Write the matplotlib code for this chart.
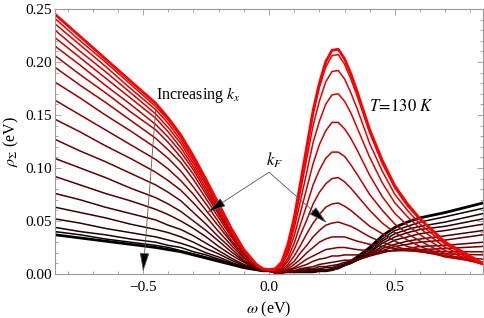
import matplotlib
matplotlib.use("Agg")
import matplotlib.pyplot as plt
from matplotlib.ticker import MultipleLocator, FixedLocator, FixedFormatter

omega = [-0.85, -0.75, -0.65, -0.55, -0.45, -0.40, -0.35, -0.30, -0.25, -0.20,
         -0.15, -0.10, -0.05, -0.025, 0.0,
         0.025, 0.05, 0.075, 0.10, 0.125, 0.15, 0.175, 0.20, 0.225, 0.25, 0.275,
         0.30, 0.325, 0.35, 0.40, 0.45, 0.50, 0.55, 0.60, 0.70, 0.85]

# rho_Sigma (eV), one row per k_x, from k_F (red) to the largest k_x (black)
rho = [
    [0.245, 0.224, 0.203, 0.182, 0.161, 0.147, 0.131, 0.111, 0.089, 0.066, 0.043, 0.023, 0.009, 0.005, 0.004,
     0.005, 0.011, 0.028, 0.053, 0.086, 0.120, 0.154, 0.180, 0.200, 0.211, 0.212, 0.203, 0.189, 0.172, 0.136, 0.107, 0.083, 0.066, 0.052, 0.030, 0.010],
    [0.241, 0.220, 0.200, 0.179, 0.158, 0.145, 0.129, 0.109, 0.088, 0.065, 0.042, 0.023, 0.009, 0.005, 0.004,
     0.005, 0.011, 0.027, 0.052, 0.084, 0.117, 0.150, 0.176, 0.195, 0.206, 0.207, 0.198, 0.184, 0.168, 0.133, 0.104, 0.081, 0.064, 0.051, 0.029, 0.010],
    [0.236, 0.216, 0.196, 0.175, 0.155, 0.142, 0.126, 0.107, 0.086, 0.064, 0.042, 0.022, 0.009, 0.005, 0.004,
     0.005, 0.010, 0.025, 0.048, 0.078, 0.109, 0.140, 0.163, 0.181, 0.191, 0.192, 0.184, 0.171, 0.156, 0.123, 0.097, 0.075, 0.060, 0.047, 0.028, 0.009],
    [0.230, 0.210, 0.191, 0.171, 0.151, 0.138, 0.123, 0.104, 0.084, 0.062, 0.041, 0.022, 0.009, 0.005, 0.004,
     0.004, 0.009, 0.022, 0.043, 0.069, 0.096, 0.124, 0.144, 0.160, 0.169, 0.170, 0.163, 0.152, 0.138, 0.110, 0.086, 0.067, 0.054, 0.043, 0.025, 0.009],
    [0.223, 0.204, 0.185, 0.166, 0.147, 0.134, 0.119, 0.101, 0.081, 0.060, 0.039, 0.021, 0.008, 0.005, 0.004,
     0.004, 0.008, 0.019, 0.036, 0.058, 0.081, 0.104, 0.122, 0.135, 0.143, 0.143, 0.137, 0.128, 0.117, 0.093, 0.073, 0.057, 0.046, 0.037, 0.022, 0.009],
    [0.215, 0.197, 0.178, 0.160, 0.141, 0.129, 0.115, 0.098, 0.078, 0.058, 0.038, 0.021, 0.008, 0.005, 0.004,
     0.003, 0.006, 0.015, 0.029, 0.047, 0.065, 0.084, 0.098, 0.109, 0.115, 0.115, 0.111, 0.103, 0.094, 0.075, 0.060, 0.047, 0.038, 0.031, 0.019, 0.009],
    [0.206, 0.188, 0.171, 0.153, 0.136, 0.124, 0.110, 0.094, 0.075, 0.056, 0.037, 0.020, 0.008, 0.005, 0.004,
     0.002, 0.005, 0.012, 0.023, 0.037, 0.051, 0.066, 0.077, 0.085, 0.090, 0.091, 0.087, 0.081, 0.074, 0.060, 0.048, 0.039, 0.032, 0.026, 0.017, 0.010],
    [0.195, 0.178, 0.162, 0.145, 0.128, 0.117, 0.105, 0.089, 0.071, 0.053, 0.035, 0.019, 0.008, 0.005, 0.004,
     0.002, 0.004, 0.009, 0.017, 0.027, 0.038, 0.048, 0.056, 0.063, 0.066, 0.067, 0.064, 0.060, 0.055, 0.045, 0.038, 0.031, 0.026, 0.023, 0.016, 0.011],
    [0.181, 0.166, 0.150, 0.135, 0.119, 0.109, 0.097, 0.082, 0.066, 0.049, 0.032, 0.018, 0.007, 0.004, 0.004,
     0.001, 0.003, 0.007, 0.012, 0.020, 0.027, 0.035, 0.041, 0.046, 0.048, 0.049, 0.047, 0.045, 0.042, 0.035, 0.030, 0.026, 0.023, 0.021, 0.017, 0.014],
    [0.164, 0.150, 0.136, 0.122, 0.108, 0.099, 0.088, 0.075, 0.060, 0.045, 0.030, 0.016, 0.007, 0.004, 0.004,
     0.001, 0.002, 0.005, 0.009, 0.014, 0.020, 0.025, 0.030, 0.033, 0.035, 0.035, 0.035, 0.033, 0.031, 0.028, 0.026, 0.024, 0.022, 0.021, 0.019, 0.018],
    [0.146, 0.134, 0.121, 0.109, 0.096, 0.088, 0.079, 0.067, 0.054, 0.040, 0.027, 0.015, 0.007, 0.004, 0.004,
     0.001, 0.002, 0.004, 0.006, 0.010, 0.014, 0.017, 0.020, 0.023, 0.024, 0.025, 0.025, 0.024, 0.023, 0.022, 0.022, 0.022, 0.022, 0.022, 0.021, 0.021],
    [0.127, 0.116, 0.106, 0.095, 0.084, 0.077, 0.069, 0.058, 0.047, 0.035, 0.024, 0.013, 0.006, 0.004, 0.003,
     0.001, 0.002, 0.003, 0.005, 0.007, 0.009, 0.012, 0.014, 0.015, 0.017, 0.017, 0.018, 0.018, 0.018, 0.019, 0.021, 0.022, 0.023, 0.023, 0.024, 0.026],
    [0.109, 0.100, 0.091, 0.081, 0.072, 0.066, 0.059, 0.050, 0.041, 0.031, 0.021, 0.012, 0.006, 0.004, 0.003,
     0.001, 0.001, 0.002, 0.003, 0.005, 0.006, 0.007, 0.009, 0.010, 0.011, 0.012, 0.013, 0.013, 0.014, 0.017, 0.020, 0.023, 0.024, 0.026, 0.027, 0.030],
    [0.092, 0.084, 0.076, 0.069, 0.061, 0.056, 0.050, 0.043, 0.035, 0.026, 0.018, 0.011, 0.005, 0.004, 0.003,
     0.001, 0.001, 0.002, 0.003, 0.004, 0.005, 0.005, 0.007, 0.007, 0.008, 0.009, 0.011, 0.012, 0.013, 0.017, 0.022, 0.026, 0.028, 0.030, 0.032, 0.037],
    [0.076, 0.070, 0.063, 0.057, 0.051, 0.046, 0.042, 0.036, 0.029, 0.022, 0.015, 0.009, 0.005, 0.003, 0.003,
     0.001, 0.001, 0.002, 0.002, 0.003, 0.004, 0.004, 0.005, 0.006, 0.006, 0.008, 0.009, 0.011, 0.013, 0.018, 0.024, 0.028, 0.031, 0.033, 0.036, 0.041],
    [0.063, 0.058, 0.053, 0.047, 0.042, 0.039, 0.035, 0.030, 0.024, 0.019, 0.013, 0.008, 0.005, 0.003, 0.003,
     0.001, 0.002, 0.002, 0.002, 0.002, 0.003, 0.003, 0.004, 0.004, 0.005, 0.006, 0.008, 0.010, 0.013, 0.019, 0.026, 0.032, 0.035, 0.038, 0.041, 0.047],
    [0.052, 0.048, 0.043, 0.039, 0.035, 0.032, 0.029, 0.025, 0.020, 0.016, 0.011, 0.007, 0.004, 0.003, 0.003,
     0.002, 0.002, 0.002, 0.002, 0.002, 0.002, 0.002, 0.003, 0.003, 0.004, 0.006, 0.008, 0.010, 0.013, 0.020, 0.029, 0.035, 0.039, 0.042, 0.045, 0.052],
    [0.044, 0.040, 0.037, 0.033, 0.030, 0.027, 0.025, 0.021, 0.018, 0.014, 0.010, 0.007, 0.004, 0.003, 0.003,
     0.002, 0.002, 0.002, 0.002, 0.002, 0.002, 0.002, 0.003, 0.003, 0.004, 0.005, 0.008, 0.011, 0.014, 0.021, 0.031, 0.038, 0.042, 0.045, 0.049, 0.057],
    [0.040, 0.037, 0.033, 0.030, 0.027, 0.025, 0.022, 0.019, 0.016, 0.013, 0.010, 0.006, 0.004, 0.003, 0.003,
     0.002, 0.002, 0.002, 0.002, 0.002, 0.002, 0.002, 0.003, 0.003, 0.004, 0.006, 0.008, 0.011, 0.015, 0.023, 0.033, 0.041, 0.045, 0.049, 0.054, 0.062],
    [0.037, 0.034, 0.031, 0.028, 0.025, 0.023, 0.021, 0.018, 0.015, 0.012, 0.009, 0.006, 0.004, 0.003, 0.003,
     0.002, 0.002, 0.002, 0.002, 0.002, 0.002, 0.002, 0.003, 0.003, 0.004, 0.006, 0.009, 0.012, 0.016, 0.025, 0.036, 0.044, 0.049, 0.053, 0.058, 0.067],
]

x_ticks = [-0.5, 0.0, 0.5]
x_tick_labels = ["\u22120.5", "0.0", "0.5"]
y_ticks = [0.0, 0.05, 0.10, 0.15, 0.20, 0.25]
y_tick_labels = ["0.00", "0.05", "0.10", "0.15", "0.20", "0.25"]

plt.rcParams["font.family"] = ["Liberation Serif", "DejaVu Serif"]
plt.rcParams["mathtext.fontset"] = "stix"

fig = plt.figure(figsize=(4.85, 3.18), dpi=100)
ax = fig.add_axes([0.1134, 0.1384, 0.8825, 0.8333])

# black first, red last so the k_F curve sits on top
n = len(rho)
for i in reversed(range(n)):
    t = 1 - i / (n - 1)
    lw = 2.0 if i in (0, n - 1) else 1.1
    ax.plot(omega, rho[i], color=(t, 0, 0), lw=lw, solid_joinstyle="round")

ax.set_xlim(-0.85, 0.85)
ax.set_ylim(0, 0.25)

ax.xaxis.set_major_locator(FixedLocator(x_ticks))
ax.xaxis.set_major_formatter(FixedFormatter(x_tick_labels))
ax.xaxis.set_minor_locator(MultipleLocator(0.1))
ax.yaxis.set_major_locator(FixedLocator(y_ticks))
ax.yaxis.set_major_formatter(FixedFormatter(y_tick_labels))
ax.yaxis.set_minor_locator(MultipleLocator(0.01))

ax.tick_params(which="both", direction="in", top=True, right=True,
               color="0.6", width=0.6, labelsize=11)
ax.tick_params(which="major", length=4)
ax.tick_params(which="minor", length=2)
ax.tick_params(axis="y", pad=2)
ax.tick_params(axis="x", pad=5)
for s in ax.spines.values():
    s.set_color("0.6")
    s.set_linewidth(0.8)

ax.set_xlabel(r"$\omega$ (eV)", fontsize=11.5, labelpad=4)
ax.set_ylabel(r"$\rho_\Sigma$ (eV)", fontsize=11.5, labelpad=3)

arrow = dict(arrowstyle="-|>,head_length=1.2,head_width=0.3", facecolor="k",
             edgecolor="0.35", lw=0.6, shrinkA=0, shrinkB=0, mutation_scale=10)

ax.text(-0.448, 0.169, r"Increasing $k_x$", fontsize=11.5, va="center", ha="left")
ax.annotate("", xy=(-0.5, 0.002), xytext=(-0.448, 0.161), arrowprops=arrow)

ax.text(0.02, 0.107, r"$k_F$", fontsize=12, va="center", ha="center")
ax.annotate("", xy=(-0.246, 0.058), xytext=(0.0, 0.096), arrowprops=arrow)
ax.annotate("", xy=(0.23, 0.048), xytext=(0.0, 0.096), arrowprops=arrow)

ax.text(0.524, 0.158, r"$T\!=\!130\ K$", fontsize=12, va="center", ha="center")

fig.savefig("out.png", dpi=100)
